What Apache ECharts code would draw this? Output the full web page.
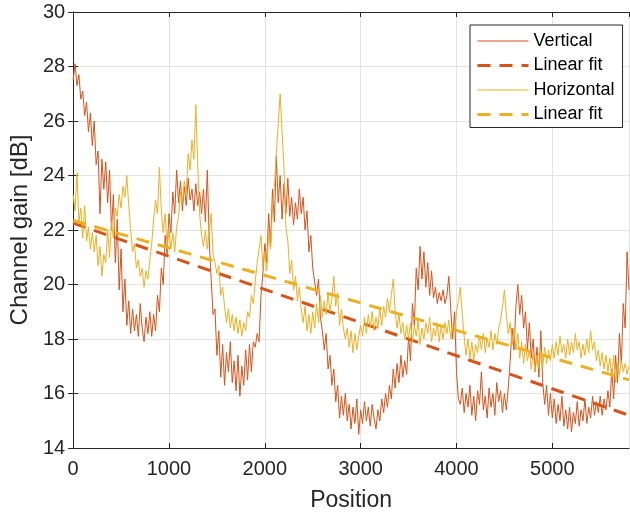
<!DOCTYPE html>
<html>
<head>
<meta charset="utf-8">
<script src="https://cdn.jsdelivr.net/npm/echarts@6/dist/echarts.min.js"></script>
<style>
  html, body { margin: 0; padding: 0; background: #fff; }
  #chart { width: 630px; height: 517px; }
</style>
</head>
<body>
<div id="chart"></div>
<script>
// Channel gain along the track, sampled every POS_STEP positions.
const POS_STEP = 20;

const vertical = [
  27.5, 28.1, 27.3, 27.7, 26.8, 27.1, 26.2, 26.7, 25.6, 26.3, 25.1, 26.0, 24.4, 24.9, 22.6, 24.6, 23.5, 24.5, 23.0, 24.2, 22.0, 23.3, 20.8, 22.4, 19.8,
  21.3, 19.0, 20.2, 18.5, 19.4, 18.2, 19.1, 18.3, 18.9, 18.1, 19.3, 18.4, 17.9, 18.8, 18.2, 19.0, 18.1, 18.9, 18.3, 19.6, 19.0, 20.6, 20.0, 21.8, 21.1,
  22.6, 21.9, 23.4, 22.6, 24.2, 23.0, 23.8, 22.7, 23.6, 22.9, 23.9, 23.1, 23.5, 22.7, 23.7, 22.9, 23.4, 22.6, 23.5, 22.3, 24.2, 21.6, 20.2, 18.9, 19.1,
  17.4, 18.3, 16.6, 17.8, 16.3, 17.5, 16.8, 17.9, 16.4, 17.2, 16.1, 17.4, 15.9, 17.0, 16.3, 17.6, 16.5, 17.8, 16.8, 17.9, 17.7, 18.2, 17.9, 19.6, 20.4,
  21.5, 20.8, 22.6, 21.4, 23.5, 22.3, 24.7, 23.0, 24.0, 22.4, 23.7, 22.6, 23.9, 22.5, 23.2, 22.2, 23.0, 22.4, 23.5, 22.6, 23.2, 22.0, 22.7, 21.2, 21.8,
  20.6, 20.1, 19.6, 20.2, 18.8, 18.3, 17.6, 18.2, 16.9, 17.4, 16.3, 16.9, 15.7, 16.3, 15.1, 15.9, 15.2, 16.0, 15.0, 15.6, 14.7, 15.5, 14.9, 15.8, 14.5,
  15.4, 14.9, 15.7, 15.0, 15.5, 14.8, 15.6, 15.1, 14.7, 15.4, 15.0, 15.8, 15.3, 16.0, 15.5, 16.3, 15.8, 16.9, 16.2, 17.1, 16.4, 17.4, 16.6, 17.2, 16.7,
  18.1, 17.2, 19.3, 18.5, 20.6, 19.8, 21.4, 20.2, 21.2, 19.9, 20.8, 19.6, 20.5, 19.5, 19.9, 19.3, 19.7, 19.4, 19.8, 19.3, 19.6, 20.3, 19.1, 18.0, 19.0,
  16.8, 15.8, 15.6, 16.2, 15.3, 16.0, 15.5, 16.3, 15.2, 15.9, 15.0, 16.1, 15.6, 16.8, 15.4, 15.9, 15.1, 16.2, 15.5, 16.0, 15.2, 16.4, 15.7, 16.1, 15.3,
  16.0, 15.4, 16.2, 17.2, 18.4, 17.6, 19.2, 20.0, 18.9, 19.6, 18.4, 19.0, 17.6, 18.6, 17.3, 18.0, 16.8, 17.7, 16.6, 18.3, 16.4, 15.6, 16.3, 15.2, 16.0,
  15.1, 15.8, 14.9, 15.6, 15.0, 15.9, 14.8, 15.4, 14.7, 15.5, 14.6, 15.3, 14.9, 15.7, 14.8, 15.4, 15.0, 15.8, 14.9, 15.5, 15.1, 15.9, 15.2, 15.7, 15.3,
  15.9, 15.2, 15.8, 15.4, 16.1, 15.5, 16.9, 15.8, 17.4, 16.4, 18.2, 17.1, 19.3, 18.4, 21.2, 19.8
];

const horizontal = [
  23.3, 22.7, 24.1, 22.3, 22.8, 21.7, 22.9, 21.6, 22.1, 21.3, 21.9, 21.2, 21.8, 20.7, 21.4, 20.3, 21.1, 20.8, 22.0, 21.0, 22.3, 21.7, 22.8, 22.5, 23.3,
  22.8, 23.6, 23.2, 24.0, 22.9, 22.0, 21.2, 21.5, 20.6, 20.9, 20.3, 20.6, 19.9, 20.5, 20.2, 20.9, 21.5, 22.4, 23.1, 22.6, 24.3, 22.7, 21.9, 22.6, 21.4,
  22.0, 21.3, 21.9, 21.2, 22.1, 22.5, 23.4, 23.0, 23.8, 23.3, 24.8, 24.2, 25.3, 24.6, 26.6, 24.4, 22.6, 21.8, 21.4, 22.0, 21.3, 21.9, 22.6, 21.1, 20.8,
  20.4, 20.7, 19.6, 19.9, 19.2, 18.6, 19.1, 18.4, 18.9, 18.3, 18.8, 18.2, 18.7, 18.1, 18.6, 18.3, 19.0, 18.8, 19.6, 19.3, 20.1, 20.8, 21.3, 21.8, 20.6,
  21.2, 20.5, 21.9, 21.3, 22.8, 23.6, 24.8, 25.9, 27.0, 25.6, 24.3, 22.1, 21.6, 20.4, 20.9, 19.8, 20.3, 19.4, 19.9, 19.1, 18.6, 19.2, 18.3, 18.9, 18.2,
  19.0, 18.4, 19.3, 18.6, 19.6, 18.8, 19.4, 18.9, 19.7, 19.0, 19.5, 20.3, 19.2, 19.7, 18.5, 19.1, 18.4, 18.0, 18.4, 17.7, 18.3, 17.5, 18.2, 17.6, 18.1,
  18.5, 18.1, 18.8, 18.2, 18.9, 18.4, 19.0, 18.3, 18.8, 18.4, 19.1, 18.5, 19.2, 18.8, 19.5, 19.0, 19.6, 20.2, 19.0, 18.4, 18.9, 18.2, 18.6, 18.0, 18.5,
  18.0, 18.6, 17.9, 18.5, 18.1, 18.7, 17.8, 18.4, 18.0, 18.6, 18.2, 18.8, 17.9, 18.4, 18.1, 18.6, 17.9, 18.5, 18.0, 18.6, 18.2, 18.7, 18.0, 18.5, 18.3,
  19.0, 19.4, 19.9, 18.9, 18.1, 17.4, 18.0, 17.3, 17.9, 17.2, 17.8, 17.5, 18.1, 17.6, 18.2, 17.5, 18.0, 17.7, 18.3, 17.6, 18.2, 17.8, 18.4, 18.7, 19.2,
  19.8, 18.9, 18.2, 18.6, 17.8, 18.4, 17.6, 18.2, 17.3, 17.9, 17.1, 17.8, 17.2, 17.6, 16.9, 17.5, 16.8, 17.4, 16.9, 17.6, 17.0, 17.7, 17.1, 17.6, 17.2,
  17.8, 17.3, 17.9, 17.4, 18.1, 17.5, 17.8, 17.3, 18.0, 17.4, 17.9, 17.5, 18.2, 17.6, 17.9, 17.3, 17.8, 17.4, 18.0, 17.5, 18.3, 17.6, 17.9, 17.2, 17.6,
  17.0, 17.5, 16.9, 17.4, 16.8, 17.3, 16.6, 17.4, 16.4, 17.1, 16.7, 17.2, 16.8, 17.1, 16.7, 17.0
];

// Least-squares fit lines, given by their values at the two ends of the track.
const fitPositions = [0, 5800];
const verticalFit = [22.25, 15.2];
const horizontalFit = [22.35, 16.5];

const xTicks = { min: 0, max: 5800, interval: 1000 };
const yTicks = { min: 14, max: 30, interval: 2 };

const RED = '#D95319';
const GOLD = '#EDB120';
const INK = '#262626';
const FONT = '"Liberation Sans", Arial, Helvetica, sans-serif';
const DASH = [13, 9];

const toPairs = (values, posOf) => values.map((v, i) => [posOf(i), v]);
const sampled = values => toPairs(values, i => i * POS_STEP);
const fitted = values => toPairs(values, i => fitPositions[i]);
const plain = v => String(v);

const chart = echarts.init(document.getElementById('chart'), null, { renderer: 'canvas' });

const boxAxis = {
  show: true,
  axisLine: { show: true, lineStyle: { color: INK, width: 1 } },
  axisTick: { show: true, inside: true, length: 5, lineStyle: { color: INK } },
  axisLabel: { show: false },
  splitLine: { show: false }
};

chart.setOption({
  animation: false,
  backgroundColor: '#fff',
  grid: { left: 71, right: 1, top: 12, bottom: 68, containLabel: false },
  xAxis: [
    {
      type: 'value', position: 'bottom',
      min: xTicks.min, max: xTicks.max, interval: xTicks.interval,
      name: 'Position', nameLocation: 'middle', nameGap: 41,
      nameTextStyle: { fontFamily: FONT, fontSize: 23, color: INK },
      axisLine: { show: true, onZero: false, lineStyle: { color: INK, width: 1 } },
      axisTick: { show: true, inside: true, length: 5, lineStyle: { color: INK } },
      axisLabel: { fontFamily: FONT, fontSize: 20, color: INK, margin: 11, showMaxLabel: false, formatter: plain },
      splitLine: { show: true, lineStyle: { color: '#e3e3e3', width: 1 } }
    },
    Object.assign({ type: 'value', position: 'top', min: xTicks.min, max: xTicks.max, interval: xTicks.interval }, boxAxis)
  ],
  yAxis: [
    {
      type: 'value', position: 'left',
      min: yTicks.min, max: yTicks.max, interval: yTicks.interval,
      name: 'Channel gain [dB]', nameLocation: 'middle', nameGap: 36,
      nameTextStyle: { fontFamily: FONT, fontSize: 24, color: INK },
      axisLine: { show: true, onZero: false, lineStyle: { color: INK, width: 1 } },
      axisTick: { show: true, inside: true, length: 5, lineStyle: { color: INK } },
      axisLabel: { fontFamily: FONT, fontSize: 20, color: INK, margin: 8, formatter: plain },
      splitLine: { show: true, lineStyle: { color: '#e3e3e3', width: 1 } }
    },
    Object.assign({ type: 'value', position: 'right', min: yTicks.min, max: yTicks.max, interval: yTicks.interval }, boxAxis)
  ],
  legend: {
    orient: 'vertical',
    left: 470, top: 25,
    padding: [7, 8, 4, 6],
    itemWidth: 51, itemHeight: 18, itemGap: 6.5,
    backgroundColor: '#fff',
    borderColor: INK, borderWidth: 1, borderRadius: 0,
    itemStyle: { opacity: 0 },
    textStyle: { fontFamily: FONT, fontSize: 18, color: '#000' },
    formatter: name => name.indexOf('Linear fit') === 0 ? 'Linear fit' : name,
    data: [
      { name: 'Vertical', lineStyle: { width: 1, type: 'solid', color: RED } },
      { name: 'Linear fit (vertical)', lineStyle: { width: 3, type: DASH, color: RED } },
      { name: 'Horizontal', lineStyle: { width: 1, type: 'solid', color: GOLD } },
      { name: 'Linear fit (horizontal)', lineStyle: { width: 3, type: DASH, color: GOLD } }
    ]
  },
  series: [
    {
      name: 'Vertical', type: 'line', data: sampled(vertical),
      symbol: 'none', lineStyle: { color: RED, width: 1 }, itemStyle: { color: RED }, z: 2
    },
    {
      name: 'Linear fit (vertical)', type: 'line', data: fitted(verticalFit),
      symbol: 'none', lineStyle: { color: RED, width: 3, type: DASH }, itemStyle: { color: RED }, z: 3
    },
    {
      name: 'Horizontal', type: 'line', data: sampled(horizontal),
      symbol: 'none', lineStyle: { color: GOLD, width: 1 }, itemStyle: { color: GOLD }, z: 4
    },
    {
      name: 'Linear fit (horizontal)', type: 'line', data: fitted(horizontalFit),
      symbol: 'none', lineStyle: { color: GOLD, width: 3, type: DASH }, itemStyle: { color: GOLD }, z: 5
    }
  ]
});
</script>
</body>
</html>
